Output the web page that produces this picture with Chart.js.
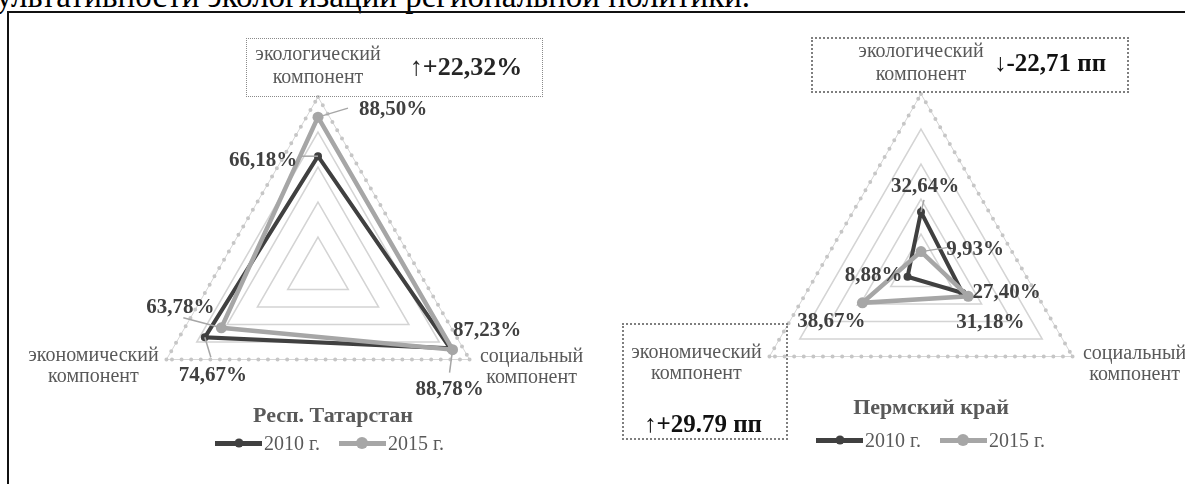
<!DOCTYPE html>
<html><head><meta charset="utf-8">
<script src="https://cdn.jsdelivr.net/npm/chart.js@4.4.1/dist/chart.umd.min.js"></script>
<style>
html,body{margin:0;padding:0;background:#fff;width:1185px;height:484px;overflow:hidden;position:relative;font-family:"Liberation Serif","Times New Roman",serif;}
#caption{position:absolute;left:-4px;top:-20px;font-size:33px;line-height:33px;white-space:nowrap;color:#000;}
#frame{position:absolute;left:7px;top:11px;width:1200px;height:500px;border-left:2px solid #111;border-top:2px solid #111;}
canvas{position:absolute;top:0;}
.box{position:absolute;box-sizing:border-box;}
.ann{position:absolute;font-weight:bold;white-space:nowrap;transform:translate(-50%,-50%);line-height:1;}
.title{position:absolute;font-weight:bold;color:#595959;font-size:22px;line-height:1;transform:translate(-50%,-50%);white-space:nowrap;}
.legend{position:absolute;display:flex;align-items:center;font-size:20px;line-height:1;color:#595959;transform:translateY(-50%);white-space:nowrap;}
.item{display:flex;align-items:center;margin-right:19px;}
.mk{position:relative;width:47px;height:5px;margin-right:2px;}
.dot{position:absolute;left:50%;top:50%;border-radius:50%;transform:translate(-50%,-50%);}
</style>
</head><body>
<div id="caption">ультативности экологизации региональной политики.</div>
<div id="frame"></div>
<canvas id="cTat" width="600" height="484" style="left:0"></canvas>
<canvas id="cPerm" width="585" height="484" style="left:600px"></canvas>

<div class="box" style="left:246px;top:38px;width:297px;height:59px;border:1px dotted #8a8a8a;"></div>
<div class="ann" style="left:466px;top:67px;font-size:26px;color:#262626;">↑+22,32%</div>

<div class="box" style="left:811px;top:37px;width:318px;height:56px;border:2px dotted #7f7f7f;"></div>
<div class="ann" style="left:1050px;top:62px;font-size:25px;color:#111;">↓-22,71 пп</div>

<div class="box" style="left:622px;top:323px;width:166px;height:117px;border:2px dotted #7f7f7f;"></div>
<div class="ann" style="left:703px;top:423px;font-size:25px;color:#111;">↑+29.79 пп</div>

<div class="title" style="left:333px;top:415px;">Респ. Татарстан</div>
<div class="title" style="left:931px;top:407px;">Пермский край</div>
<div class="legend" id="legTat" style="left:215px;top:443px;"></div>
<div class="legend" id="legPerm" style="left:816px;top:440px;"></div>

<script>
// ---- data ----
const categories = ['экологический компонент', 'социальный компонент', 'экономический компонент'];
const seriesNames = ['2010 г.', '2015 г.'];
const tatarstan2010 = [66.18, 87.23, 74.67];
const tatarstan2015 = [88.50, 88.78, 63.78];
const perm2010 = [32.64, 27.40, 8.88];
const perm2015 = [9.93, 31.18, 38.67];
const scaleTicks = [0, 20, 40, 60, 80, 100];

// ---- styles ----
const seriesColors = ['#404040', '#a6a6a6'];
const seriesWidths = [4, 4.5];
const seriesRadius = [4, 5.5];

const labelOffsetsTat = [
  [{dx:-55,dy:4,lx:-20,ly:0}, {dx:37,dy:-18}, {dx:8,dy:38,lx:6,ly:20}],
  [{dx:75,dy:-8,lx:30,ly:-9}, {dx:-3,dy:40,lx:-3,ly:23}, {dx:-41,dy:-20,lx:-38,ly:-10}]
];
const labelOffsetsPerm = [
  [{dx:4,dy:-25,lx:3,ly:-12}, {dx:44,dy:0}, {dx:-34,dy:-1}],
  [{dx:54,dy:-2,lx:26,ly:-4}, {dx:22,dy:26}, {dx:-31,dy:19}]
];
const catOffsets = [
  {dx:0, dy:[-42,-19]},
  {dx:62, dy:[-3,18]},
  {dx:-73, dy:[-4,17]}
];

const fmt = v => v.toFixed(2).replace('.', ',') + '%';

const outerDots = {
  id: 'outerDots',
  beforeDatasetsDraw(chart) {
    const s = chart.scales.r, ctx = chart.ctx, n = chart.data.labels.length;
    ctx.save();
    ctx.strokeStyle = '#c6c6c6';
    ctx.lineWidth = 4;
    ctx.lineCap = 'round';
    ctx.setLineDash([0, 9.6]);
    for (let i = 0; i < n; i++) {
      const a = s.getPointPositionForValue(i, s.max);
      const b = s.getPointPositionForValue((i + 1) % n, s.max);
      ctx.beginPath(); ctx.moveTo(a.x, a.y); ctx.lineTo(b.x, b.y); ctx.stroke();
    }
    ctx.restore();
  }
};

const catLabels = {
  id: 'catLabels',
  afterDraw(chart) {
    const s = chart.scales.r, ctx = chart.ctx;
    ctx.save();
    ctx.font = '20px "Liberation Serif", serif';
    ctx.fillStyle = '#595959';
    ctx.textAlign = 'center';
    ctx.textBaseline = 'middle';
    chart.data.labels.forEach((lab, i) => {
      const p = s.getPointPositionForValue(i, s.max);
      const o = catOffsets[i];
      const lines = lab.split(' ');
      lines.forEach((t, k) => ctx.fillText(t, p.x + o.dx, p.y + o.dy[k]));
    });
    ctx.restore();
  }
};

const valueLabels = {
  id: 'valueLabels',
  afterDatasetsDraw(chart, args, opts) {
    const ctx = chart.ctx;
    ctx.save();
    chart.data.datasets.forEach((ds, d) => {
      const meta = chart.getDatasetMeta(d);
      meta.data.forEach((pt, i) => {
        const o = opts.offsets[d][i];
        if (o.lx !== undefined) {
          ctx.strokeStyle = '#a6a6a6';
          ctx.lineWidth = 1.5;
          ctx.beginPath(); ctx.moveTo(pt.x, pt.y); ctx.lineTo(pt.x + o.lx, pt.y + o.ly); ctx.stroke();
        }
      });
    });
    ctx.font = 'bold 21px "Liberation Serif", serif';
    ctx.fillStyle = '#404040';
    ctx.textAlign = 'center';
    ctx.textBaseline = 'middle';
    chart.data.datasets.forEach((ds, d) => {
      const meta = chart.getDatasetMeta(d);
      meta.data.forEach((pt, i) => {
        const o = opts.offsets[d][i];
        ctx.fillText(fmt(ds.data[i]), pt.x + o.dx, pt.y + o.dy);
      });
    });
    ctx.restore();
  }
};

function makeChart(id, values, offsets, padding) {
  return new Chart(document.getElementById(id), {
    type: 'radar',
    data: {
      labels: categories,
      datasets: values.map((v, k) => ({
        label: seriesNames[k],
        data: v,
        borderColor: seriesColors[k],
        backgroundColor: seriesColors[k],
        pointBackgroundColor: seriesColors[k],
        pointBorderColor: seriesColors[k],
        borderWidth: seriesWidths[k],
        pointRadius: seriesRadius[k],
        pointBorderWidth: 0,
        fill: false,
        tension: 0,
        order: 1 - k
      }))
    },
    options: {
      responsive: false,
      animation: false,
      devicePixelRatio: 1,
      layout: { padding },
      plugins: {
        legend: { display: false },
        tooltip: { enabled: false },
        valueLabels: { offsets }
      },
      scales: {
        r: {
          min: scaleTicks[0],
          max: scaleTicks[scaleTicks.length - 1],
          ticks: { display: false, stepSize: scaleTicks[1] - scaleTicks[0] },
          angleLines: { display: false },
          pointLabels: { display: false },
          grid: {
            color: c => c.tick && c.tick.value === 100 ? '#d6d6d6' : '#d4d4d4',
            lineWidth: c => c.tick && c.tick.value === 100 ? 1 : 1.5
          }
        }
      }
    },
    plugins: [outerDots, valueLabels, catLabels]
  });
}

makeChart('cTat', [tatarstan2010, tatarstan2015], labelOffsetsTat, {left:143, right:107, top:97, bottom:37});
makeChart('cPerm', [perm2010, perm2015], labelOffsetsPerm, {left:146, right:89, top:94, bottom:40});

function buildLegend(id) {
  const el = document.getElementById(id);
  seriesNames.forEach((name, k) => {
    const item = document.createElement('div'); item.className = 'item';
    const mk = document.createElement('div'); mk.className = 'mk'; mk.style.background = seriesColors[k];
    const dot = document.createElement('div'); dot.className = 'dot';
    const d = seriesRadius[k] * 2 + 1;
    dot.style.width = d + 'px'; dot.style.height = d + 'px'; dot.style.background = seriesColors[k];
    mk.appendChild(dot);
    const tx = document.createElement('span'); tx.textContent = name;
    item.appendChild(mk); item.appendChild(tx); el.appendChild(item);
  });
}
buildLegend('legTat');
buildLegend('legPerm');
</script>
</body></html>
